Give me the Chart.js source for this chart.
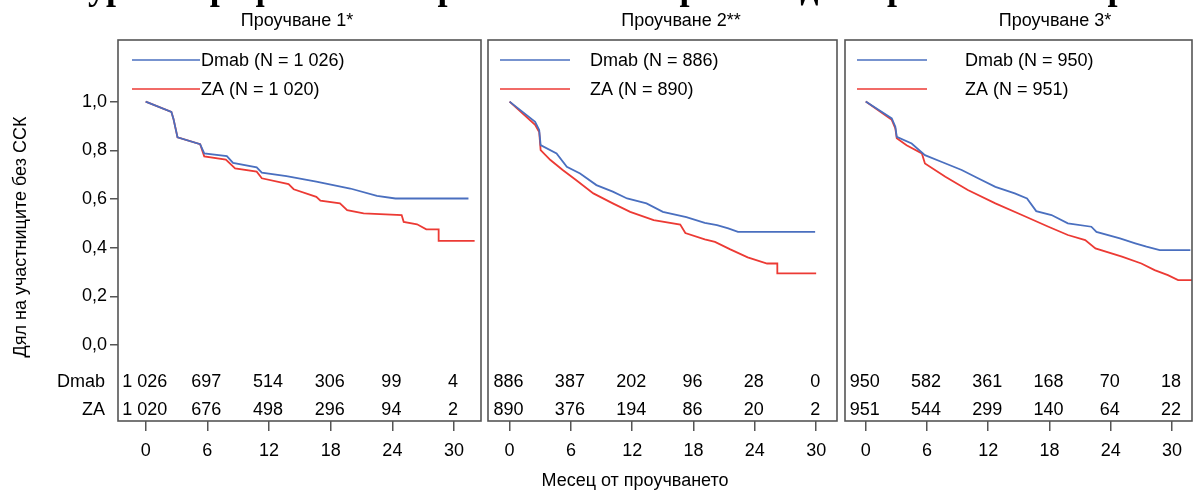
<!DOCTYPE html>
<html>
<head>
<meta charset="utf-8">
<script src="https://cdn.jsdelivr.net/npm/chart.js@4.4.1/dist/chart.umd.min.js"></script>
<style>
  html, body { margin: 0; padding: 0; background: #fff; }
  #wrap { position: relative; width: 1194px; height: 493px; overflow: hidden; }
  #wrap canvas { position: absolute; left: 0; top: 0; }
</style>
</head>
<body>
<div id="wrap">
  <canvas id="p1" width="1194" height="493"></canvas>
  <canvas id="p2" width="1194" height="493"></canvas>
  <canvas id="p3" width="1194" height="493"></canvas>
</div>
<script>
// --- data ---
const figureTitle = 'Фигура 1. Графики на Kaplan-Meier за времето до първо ССК по време на проучването';
const studyTitles = ['Проучване 1*', 'Проучване 2**', 'Проучване 3*'];
const armNames = ['Dmab', 'ZA'];
const nDmab = [1026, 886, 950];
const nZa = [1020, 890, 951];
const yTitle = 'Дял на участниците без ССК';
const xTitle = 'Месец от проучването';
const xTicks = [0, 6, 12, 18, 24, 30];
const yTicks = [0, 0.2, 0.4, 0.6, 0.8, 1.0];

// study 1
const months1Dmab = [0, 2.5, 2.7, 3.1, 5.3, 5.7, 7.9, 8.5, 10.8, 11.3, 13.7, 16.6, 19.9, 22.5, 24.3, 31.4];
const surv1Dmab   = [1.0, 0.958, 0.93, 0.853, 0.825, 0.787, 0.776, 0.748, 0.730, 0.708, 0.694, 0.671, 0.643, 0.613, 0.602, 0.602];
const months1Za = [0, 2.5, 2.7, 3.1, 5.3, 5.7, 7.8, 8.7, 10.8, 11.3, 13.9, 14.4, 16.6, 17.0, 18.9, 19.6, 21.2, 24.9, 25.1, 26.4, 27.3, 28.5, 28.5, 32.0];
const surv1Za   = [1.0, 0.958, 0.93, 0.853, 0.825, 0.775, 0.762, 0.726, 0.712, 0.685, 0.661, 0.640, 0.609, 0.593, 0.582, 0.554, 0.541, 0.534, 0.506, 0.496, 0.475, 0.475, 0.428, 0.428];
const atRisk1Dmab = [1026, 697, 514, 306, 99, 4];
const atRisk1Za   = [1020, 676, 498, 296, 94, 2];

// study 2
const months2Dmab = [0, 2.5, 2.9, 3.04, 4.6, 5.6, 6.9, 8.5, 10.1, 11.5, 13.4, 15.0, 17.3, 19.1, 20.3, 21.4, 22.35, 29.9];
const surv2Dmab   = [1.0, 0.917, 0.883, 0.821, 0.787, 0.732, 0.705, 0.657, 0.630, 0.602, 0.582, 0.547, 0.525, 0.502, 0.493, 0.479, 0.465, 0.465];
const months2Za = [0, 2.5, 2.9, 3.04, 4.0, 5.2, 6.5, 8.2, 10.1, 11.8, 14.1, 16.7, 17.2, 19.1, 20.1, 21.6, 23.3, 25.2, 26.2, 26.2, 30.0];
const surv2Za   = [1.0, 0.905, 0.875, 0.801, 0.760, 0.719, 0.678, 0.623, 0.582, 0.547, 0.513, 0.495, 0.460, 0.434, 0.424, 0.393, 0.360, 0.335, 0.335, 0.294, 0.294];
const atRisk2Dmab = [886, 387, 202, 96, 28, 0];
const atRisk2Za   = [890, 376, 194, 86, 20, 2];

// study 3
const months3Dmab = [0, 2.55, 2.9, 3.04, 4.5, 5.8, 7.4, 9.4, 11.0, 12.7, 14.6, 15.8, 16.7, 18.2, 19.8, 22.1, 22.6, 24.9, 26.4, 27.5, 28.8, 31.8];
const surv3Dmab   = [1.0, 0.931, 0.897, 0.855, 0.828, 0.780, 0.753, 0.719, 0.685, 0.650, 0.623, 0.602, 0.550, 0.534, 0.500, 0.486, 0.465, 0.438, 0.418, 0.404, 0.390, 0.390];
const months3Za = [0, 2.55, 2.9, 3.04, 4.0, 5.5, 5.8, 7.8, 10.0, 12.7, 15.3, 17.9, 19.8, 21.5, 22.5, 25.1, 27.0, 28.3, 29.6, 30.6, 32.0];
const surv3Za   = [1.0, 0.925, 0.89, 0.849, 0.821, 0.787, 0.746, 0.691, 0.637, 0.582, 0.534, 0.486, 0.452, 0.431, 0.397, 0.363, 0.335, 0.308, 0.287, 0.267, 0.267];
const atRisk3Dmab = [950, 582, 361, 168, 70, 18];
const atRisk3Za   = [951, 544, 299, 140, 64, 22];

// --- drawing ---
const FONT = "'Liberation Sans', Arial, sans-serif";
const FS = 18;
const BLUE = '#4a6fbf';
const RED = '#ec3a34';
Chart.defaults.font.family = FONT;
Chart.defaults.font.size = FS;
Chart.defaults.color = '#000';

function fmt(n) { return String(n).replace(/\B(?=(\d{3})+(?!\d))/g, ' '); }
function pts(t, s) { return t.map((v, i) => ({ x: v, y: s[i] })); }

const decor = {
  id: 'decor',
  afterDraw(chart, args, o) {
    const { ctx, chartArea: a } = chart;
    const x = chart.scales.x;
    ctx.save();
    ctx.strokeStyle = '#555';
    ctx.lineWidth = 1.6;
    ctx.strokeRect(a.left, a.top, a.right - a.left, a.bottom - a.top);

    ctx.fillStyle = '#000';
    ctx.font = FS + 'px ' + FONT;
    ctx.textBaseline = 'middle';
    ctx.textAlign = 'center';
    ctx.fillText(o.title, o.titleX, 21);

    chart.data.datasets.forEach((ds, i) => {
      const y = 60 + i * 29;
      ctx.strokeStyle = ds.borderColor;
      ctx.lineWidth = 1.6;
      ctx.beginPath();
      ctx.moveTo(o.legLine[0], y);
      ctx.lineTo(o.legLine[1], y);
      ctx.stroke();
      ctx.textAlign = 'left';
      ctx.fillText(ds.label, o.legText, y + 1);
    });

    ctx.textAlign = 'center';
    o.atRisk.forEach((row, r) => row.forEach((v, k) => {
      ctx.fillText(fmt(v), x.getPixelForValue(xTicks[k]) - 1, 382 + r * 28);
    }));

    if (o.first) {
      ctx.textAlign = 'right';
      armNames.forEach((nm, r) => ctx.fillText(nm, 105, 382 + r * 28));
      ctx.save();
      ctx.translate(21, 237);
      ctx.rotate(-Math.PI / 2);
      ctx.textAlign = 'center';
      ctx.fillText(yTitle, 0, 0);
      ctx.restore();
      // page heading, cut off by the top edge in the source
      ctx.font = "bold 36px 'Liberation Serif', 'Times New Roman', serif";
      ctx.textAlign = 'left';
      ctx.textBaseline = 'alphabetic';
      ctx.fillText(figureTitle, 20, -1);
    }
    if (o.middle) {
      ctx.textAlign = 'center';
      ctx.fillText(xTitle, 635, 481);
    }
    ctx.restore();
  }
};

function makePanel(id, k, dm, za, xr, box, extra) {
  const yAxis = {
    display: k === 0,
    min: -0.312, max: 1.253,
    afterBuildTicks: s => { s.ticks = yTicks.map(v => ({ value: v })); },
    grid: { drawOnChartArea: false, tickLength: 8, color: '#555', lineWidth: 1.5 },
    border: { display: false },
    ticks: { padding: 3, autoSkip: false, color: '#000', callback: v => v.toFixed(1).replace('.', ',') }
  };
  if (k === 0) yAxis.afterFit = s => { s.width = box[0]; };

  new Chart(document.getElementById(id), {
    type: 'line',
    data: {
      datasets: [
        { label: armNames[0] + ' (N = ' + fmt(nDmab[k]) + ')', data: pts(dm[0], dm[1]), borderColor: BLUE, borderWidth: 1.8 },
        { label: armNames[1] + ' (N = ' + fmt(nZa[k]) + ')', data: pts(za[0], za[1]), borderColor: RED, borderWidth: 1.8 }
      ]
    },
    options: {
      responsive: false,
      animation: false,
      devicePixelRatio: 1,
      layout: { autoPadding: false, padding: { left: k === 0 ? 0 : box[0], right: 1194 - box[1], top: 40, bottom: 0 } },
      elements: { point: { radius: 0 }, line: { tension: 0 } },
      plugins: {
        legend: { display: false },
        tooltip: { enabled: false },
        decor: Object.assign({ title: studyTitles[k] }, extra)
      },
      scales: {
        x: {
          type: 'linear', min: xr[0], max: xr[1],
          afterBuildTicks: s => { s.ticks = xTicks.map(v => ({ value: v })); },
          afterFit: s => { s.height = 72; },
          grid: { drawOnChartArea: false, tickLength: 10, color: '#555', lineWidth: 1.5 },
          border: { display: false },
          ticks: { padding: 9, maxRotation: 0, autoSkip: false, color: '#000' }
        },
        y: yAxis
      }
    },
    plugins: [decor]
  });
}

makePanel('p1', 0, [months1Dmab, surv1Dmab], [months1Za, surv1Za], [-2.69, 32.62], [118, 481],
  { titleX: 297, legLine: [132, 200], legText: 201, atRisk: [atRisk1Dmab, atRisk1Za], first: true });
makePanel('p2', 1, [months2Dmab, surv2Dmab], [months2Za, surv2Za], [-2.11, 32.04], [488, 837],
  { titleX: 681, legLine: [500, 570], legText: 590, atRisk: [atRisk2Dmab, atRisk2Za], middle: true });
makePanel('p3', 2, [months3Dmab, surv3Dmab], [months3Za, surv3Za], [-2.03, 31.96], [845, 1192],
  { titleX: 1055, legLine: [857, 927], legText: 965, atRisk: [atRisk3Dmab, atRisk3Za] });
</script>
</body>
</html>
